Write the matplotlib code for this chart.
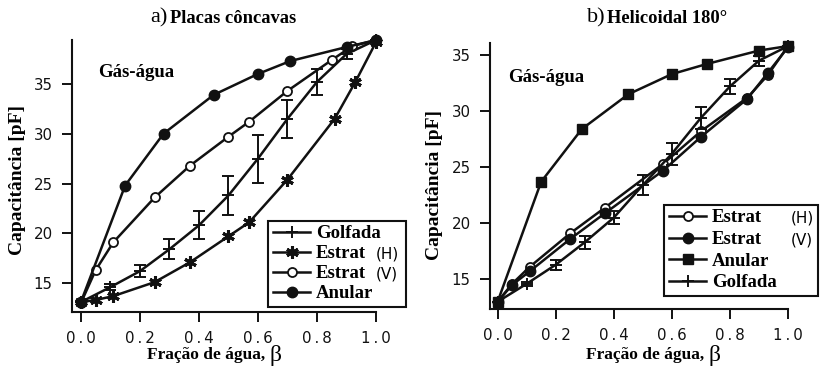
import matplotlib.pyplot as plt

# water fraction vs capacitance, concave plates
golf_a_x = [0.0, 0.1, 0.2, 0.3, 0.4, 0.5, 0.6, 0.7, 0.8, 0.9, 1.0]
golf_a_y = [13.1, 14.6, 16.2, 18.4, 20.8, 23.8, 27.5, 31.5, 35.2, 38.0, 39.4]
golf_a_err = [0.0, 0.3, 0.6, 1.0, 1.4, 2.0, 2.4, 1.9, 1.3, 0.5, 0.0]

estH_a_x = [0.0, 0.05, 0.11, 0.25, 0.37, 0.50, 0.57, 0.70, 0.86, 0.93, 1.0]
estH_a_y = [13.1, 13.3, 13.7, 15.1, 17.1, 19.7, 21.1, 25.4, 31.5, 35.2, 39.2]

estV_a_x = [0.0, 0.05, 0.11, 0.25, 0.37, 0.50, 0.57, 0.70, 0.85, 0.92, 1.0]
estV_a_y = [13.0, 16.3, 19.1, 23.6, 26.8, 29.7, 31.2, 34.3, 37.4, 38.8, 39.4]

anul_a_x = [0.0, 0.15, 0.28, 0.45, 0.60, 0.71, 0.90, 1.0]
anul_a_y = [13.1, 24.8, 30.0, 33.9, 36.0, 37.3, 38.7, 39.4]

# helical 180 deg
estH_b_x = [0.0, 0.05, 0.11, 0.25, 0.37, 0.57, 0.70, 0.86, 0.93, 1.0]
estH_b_y = [13.0, 14.6, 16.1, 19.1, 21.4, 25.3, 28.2, 31.2, 33.2, 35.8]

estV_b_x = [0.0, 0.05, 0.11, 0.25, 0.37, 0.57, 0.70, 0.86, 0.93, 1.0]
estV_b_y = [13.0, 14.5, 15.7, 18.6, 20.9, 24.7, 27.7, 31.1, 33.4, 35.7]

anul_b_x = [0.0, 0.15, 0.29, 0.45, 0.60, 0.72, 0.90, 1.0]
anul_b_y = [13.0, 23.7, 28.4, 31.5, 33.3, 34.2, 35.4, 35.8]

golf_b_x = [0.0, 0.1, 0.2, 0.3, 0.4, 0.5, 0.6, 0.7, 0.8, 0.9, 1.0]
golf_b_y = [13.0, 14.6, 16.3, 18.3, 20.5, 23.4, 26.2, 29.4, 32.2, 34.5, 35.8]
golf_b_err = [0.0, 0.2, 0.45, 0.6, 0.6, 0.9, 1.0, 1.0, 0.7, 0.45, 0.0]

x_ticks = [0.0, 0.2, 0.4, 0.6, 0.8, 1.0]
x_ticklabels = ['0\u2009.\u20090', '0\u2009.\u20092', '0\u2009.\u20094',
                '0\u2009.\u20096', '0\u2009.\u20098', '1\u2009.\u20090']
y_ticks = [15, 20, 25, 30, 35]

SERIF = 'Liberation Serif'
SANS = 'DejaVu Sans'
K = '#111111'

fig = plt.figure(figsize=(8.25, 3.71), dpi=100)
ax1 = fig.add_axes([0.0873, 0.159, 0.3685, 0.733])
ax2 = fig.add_axes([0.594, 0.167, 0.3612, 0.717])

line_kw = dict(color=K, lw=1.8, clip_on=False, zorder=3)
err_kw = dict(marker='+', ms=9, mew=1.4, capsize=4, elinewidth=1.4, capthick=1.4)
open_kw = dict(marker='o', ms=6.5, mfc='white', mec=K, mew=1.3)
full_kw = dict(marker='o', ms=7.5, mfc=K, mec=K)

# panel a
g_a = ax1.errorbar(golf_a_x, golf_a_y, yerr=golf_a_err, **err_kw, **line_kw)
h_a, = ax1.plot(estH_a_x, estH_a_y, marker=(6, 2, 0), ms=9, mew=2.2, **line_kw)
v_a, = ax1.plot(estV_a_x, estV_a_y, **open_kw, **line_kw)
a_a, = ax1.plot(anul_a_x, anul_a_y, **full_kw, **line_kw)
ax1.set_xlim(-0.03, 1.0)
ax1.set_ylim(12.1, 39.4)

# panel b
h_b, = ax2.plot(estH_b_x, estH_b_y, **open_kw, **line_kw)
v_b, = ax2.plot(estV_b_x, estV_b_y, **full_kw, **line_kw)
a_b, = ax2.plot(anul_b_x, anul_b_y, marker='s', ms=7.5, mfc=K, mec=K, **line_kw)
g_b = ax2.errorbar(golf_b_x, golf_b_y, yerr=golf_b_err, **err_kw, **line_kw)
ax2.set_xlim(-0.026, 1.0)
ax2.set_ylim(12.35, 36.07)

for ax in (ax1, ax2):
    for s in ('top', 'right'):
        ax.spines[s].set_visible(False)
    for s in ('left', 'bottom'):
        ax.spines[s].set_linewidth(1.5)
        ax.spines[s].set_color(K)
    ax.set_xticks(x_ticks)
    ax.set_xticklabels(x_ticklabels)
    ax.set_yticks(y_ticks)
    ax.tick_params(direction='out', length=7, width=1.4, colors=K, pad=7)
    for lab in ax.get_xticklabels() + ax.get_yticklabels():
        lab.set_fontfamily(SANS)
        lab.set_fontsize(10.8)
    ax.set_ylabel('Capacitância [pF]', fontfamily=SERIF, fontweight='bold',
                  fontsize=14, va='center')

ax1.yaxis.set_label_coords(-0.178, 0.485)
ax2.yaxis.set_label_coords(-0.185, 0.466)
ax1.text(0.086, 0.879, 'Gás-água', transform=ax1.transAxes, fontfamily=SERIF,
         fontweight='bold', fontsize=13.5, va='center', ha='left')
ax2.text(0.06, 0.872, 'Gás-água', transform=ax2.transAxes, fontfamily=SERIF,
         fontweight='bold', fontsize=13.5, va='center', ha='left')

# panel titles
fig.text(0.2035, 0.953, 'a)', fontfamily=SERIF, fontsize=16, ha='right', va='center')
fig.text(0.206, 0.951, 'Placas côncavas', fontfamily=SERIF, fontweight='bold',
         fontsize=13.3, ha='left', va='center')
fig.text(0.7335, 0.953, 'b)', fontfamily=SERIF, fontsize=16, ha='right', va='center')
fig.text(0.736, 0.951, 'Helicoidal 180°', fontfamily=SERIF, fontweight='bold',
         fontsize=13.3, ha='left', va='center')

# x labels, with the beta drawn in a plain face right after the comma
xl_a = fig.text(147 / 825, 0.043, 'Fração de água,', fontfamily=SERIF,
                fontweight='bold', fontsize=12.5, ha='left', va='center')
xl_b = fig.text(586 / 825, 0.043, 'Fração de água,', fontfamily=SERIF,
                fontweight='bold', fontsize=12.5, ha='left', va='center')

leg_kw = dict(loc='lower left', mode='expand', borderaxespad=0, fancybox=False,
              framealpha=1, edgecolor=K, handlelength=2.0, handletextpad=0.3,
              borderpad=0.25,
              prop={'family': SERIF, 'weight': 'bold', 'size': 13.5})
leg1 = ax1.legend([g_a.lines[0], h_a, v_a, a_a],
                  ['Golfada', 'Estrat', 'Estrat', 'Anular'],
                  bbox_to_anchor=(0.325, 0.173, 0.167, 0.234),
                  bbox_transform=fig.transFigure, labelspacing=0.15, **leg_kw)
leg2 = ax2.legend([h_b, v_b, a_b, g_b.lines[0]],
                  ['Estrat', 'Estrat', 'Anular', 'Golfada'],
                  bbox_to_anchor=(0.805, 0.202, 0.187, 0.254),
                  bbox_transform=fig.transFigure, labelspacing=0.24, **leg_kw)
for leg in (leg1, leg2):
    leg.get_frame().set_linewidth(1.5)
    leg.set_zorder(5)

fig.canvas.draw()
rend = fig.canvas.get_renderer()
W, H = fig.bbox.width, fig.bbox.height

for xl in (xl_a, xl_b):
    bb = xl.get_window_extent(rend)
    fig.text((bb.x1 + 4) / W, 0.041, 'β', fontfamily=SERIF, fontsize=17,
             ha='left', va='center')

# orientation tags next to the stratified entries
tags = [(leg1, ['', '(H)', '(V)', ''], 0.455), (leg2, ['(H)', '(V)', '', ''], 0.958)]
for leg, labels, xpos in tags:
    for txt, tag in zip(leg.get_texts(), labels):
        if tag:
            bb = txt.get_window_extent(rend)
            yc = 0.5 * (bb.y0 + bb.y1) / H
            fig.text(xpos, yc, tag, fontfamily=SANS, fontsize=11,
                     ha='left', va='center', zorder=6)

fig.savefig('out.png', dpi=100)
